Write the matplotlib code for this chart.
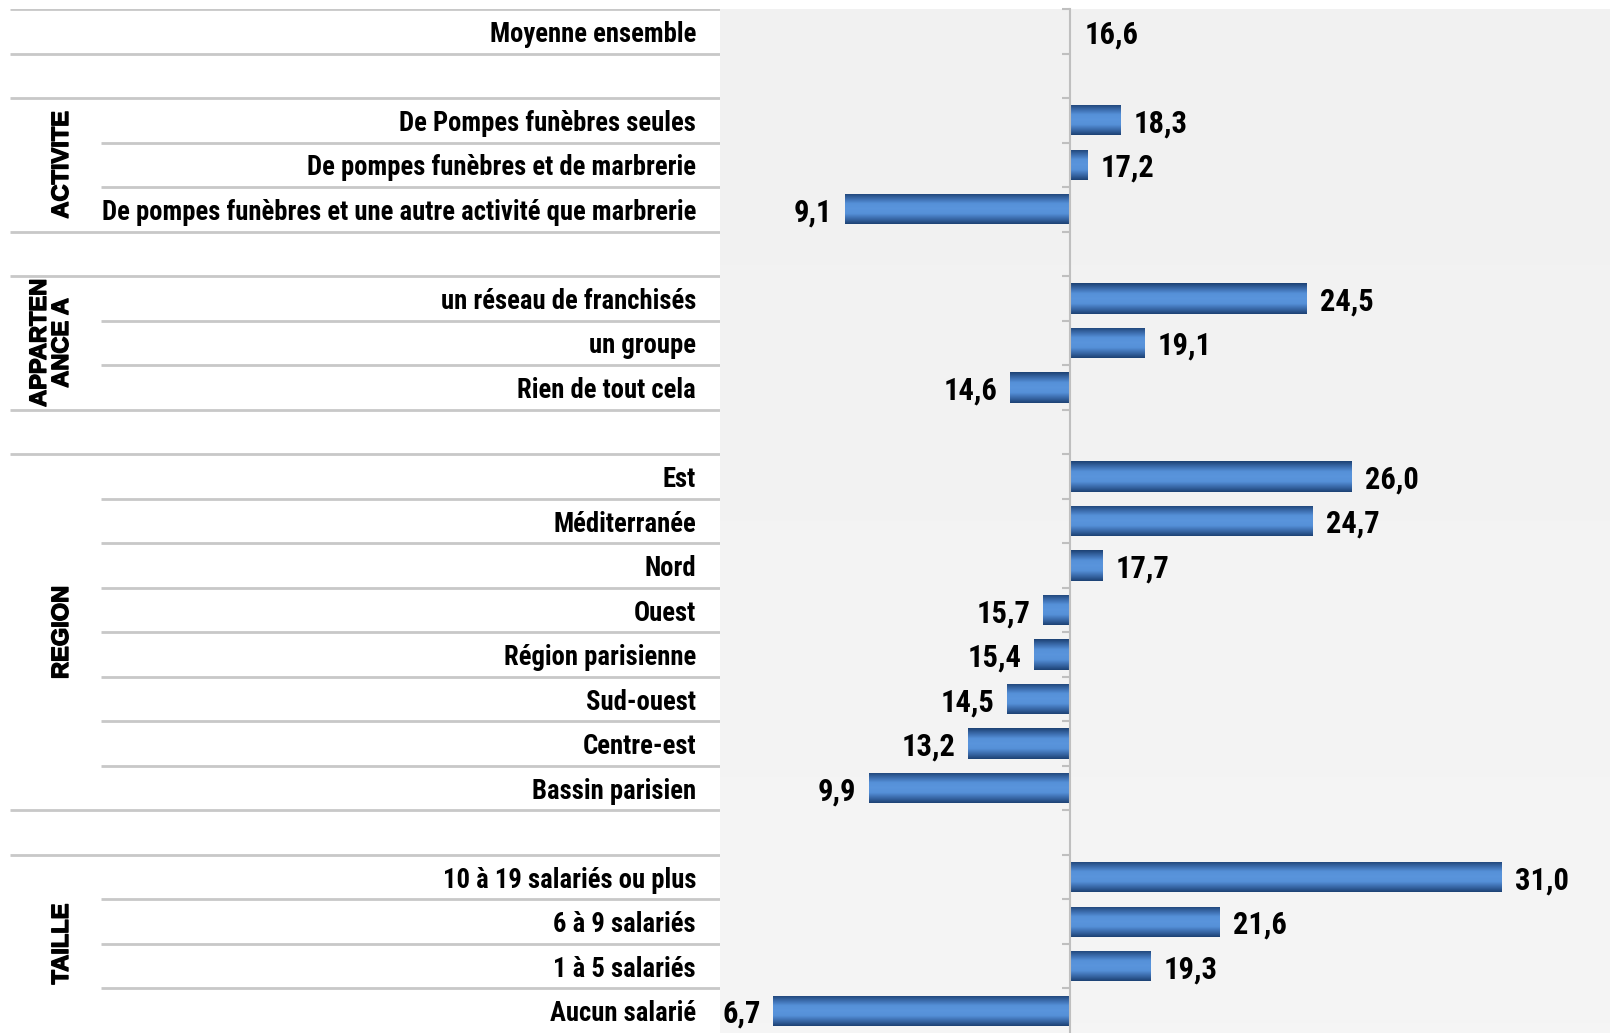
import matplotlib
matplotlib.use("Agg")
import matplotlib.pyplot as plt
import matplotlib.patheffects as pe
import numpy as np
from matplotlib import font_manager
from matplotlib.colors import LinearSegmentedColormap

# --- data -------------------------------------------------------------
mean_value = 16.6
groups = ["ACTIVITE", "APPARTEN\nANCE A", "REGION", "TAILLE"]
group_labels = [
    ["De Pompes funèbres seules",
     "De pompes funèbres et de marbrerie",
     "De pompes funèbres et une autre activité que marbrerie"],
    ["un réseau de franchisés", "un groupe", "Rien de tout cela"],
    ["Est", "Méditerranée", "Nord", "Ouest", "Région parisienne",
     "Sud-ouest", "Centre-est", "Bassin parisien"],
    ["10 à 19 salariés ou plus", "6 à 9 salariés", "1 à 5 salariés",
     "Aucun salarié"],
]
group_values = [
    [18.3, 17.2, 9.1],
    [24.5, 19.1, 14.6],
    [26.0, 24.7, 17.7, 15.7, 15.4, 14.5, 13.2, 9.9],
    [31.0, 21.6, 19.3, 6.7],
]

# --- fonts ------------------------------------------------------------
fonts = font_manager.fontManager.ttflist
names = {f.name for f in fonts}
bold_names = {f.name for f in fonts if f.weight in (700, 'bold') and f.style == 'normal'}

# narrow bold face, like Arial Narrow
narrow_font = {'family': ['DejaVu Sans'], 'stretch': 'condensed'}
for cand in ['Liberation Sans Narrow', 'Roboto Condensed', 'Archivo Narrow']:
    if cand in names:
        narrow_font = {'family': [cand, 'DejaVu Sans']}
        break

# regular-width bold face, like Arial Bold (group titles)
wide_family = ['DejaVu Sans']
for cand in ['Liberation Sans', 'Arimo', 'Roboto']:
    if cand in bold_names:
        wide_family = [cand, 'DejaVu Sans']
        break

W, H = 1610, 1033
fig = plt.figure(figsize=(W / 100, H / 100), dpi=100)

# build row layout: mean row, then blank + group rows
rows = [("Moyenne ensemble", mean_value, None)]
group_spans = []
for g, labs, vals in zip(groups, group_labels, group_values):
    rows.append(("", None, None))
    start = len(rows)
    for lab, v in zip(labs, vals):
        rows.append((lab, v, g))
    group_spans.append((g, start, len(rows) - 1))
n = len(rows)

top_px = 9
ax_h = (H - top_px) / H
left_px = 720

# --- left table -------------------------------------------------------
tab = fig.add_axes([0, 0, left_px / W, ax_h])
tab.set_xlim(0, left_px)
tab.set_ylim(n - 0.5, -0.5)
tab.axis('off')

line_col = '#c8c8c8'
for k in range(n):
    b = k - 0.5
    inner = any(s < k <= e for _, s, e in group_spans)
    x0 = 101 if inner else 10
    tab.plot([x0, left_px], [b, b], color=line_col, lw=2, solid_capstyle='butt')

for i, (lab, v, g) in enumerate(rows):
    if lab:
        tab.text(696, i, lab, ha='right', va='center_baseline', fontsize=19.2,
                 fontweight='bold', **narrow_font)

# group titles, thickened a little to look like Arial Bold
for g, s, e in group_spans:
    tab.text(73, (s + e) / 2, g, rotation=90, ha='right', va='center',
             multialignment='center', fontsize=17, fontweight='bold',
             family=wide_family, linespacing=0.95,
             path_effects=[pe.withStroke(linewidth=1.0, foreground='black')])

# --- bar area ---------------------------------------------------------
ax = fig.add_axes([left_px / W, 0, (W - left_px) / W, ax_h])
xmin, xmax = 4.93, 34.6
ax.set_xlim(xmin, xmax)
ax.set_ylim(n - 0.5, -0.5)

bg = np.linspace(0, 1, 100).reshape(-1, 1)
bg_cmap = LinearSegmentedColormap.from_list('bg', ['#f1f1f1', '#f5f5f5'])
ax.imshow(bg, extent=[xmin, xmax, n - 0.5, -0.5], aspect='auto',
          cmap=bg_cmap, zorder=0)

for sp in ['top', 'right', 'bottom']:
    ax.spines[sp].set_visible(False)
ax.spines['left'].set_position(('data', mean_value))
ax.spines['left'].set_color('#bfbfbf')
ax.spines['left'].set_linewidth(1.5)
ax.set_yticks(np.arange(n) - 0.5)
ax.set_yticklabels([])
ax.tick_params(axis='y', direction='out', length=6, width=1.5, color='#bfbfbf')
ax.set_xticks([])

bar_cmap = LinearSegmentedColormap.from_list(
    'bar', ['#1d4274', '#3a6aaa', '#5590d8', '#5a95dc', '#5590d8', '#3a6aaa', '#1d4274'])
grad = np.linspace(0, 1, 64).reshape(-1, 1)

ys = [i for i, r in enumerate(rows) if r[1] is not None and r[2] is not None]
vals = [rows[i][1] for i in ys]
bars = ax.barh(ys, [v - mean_value for v in vals], left=mean_value,
               height=0.68, color='none', edgecolor='none', zorder=2)
for bar in bars:
    x0, y0 = bar.get_x(), bar.get_y()
    x1, y1 = x0 + bar.get_width(), y0 + bar.get_height()
    im = ax.imshow(grad, extent=[min(x0, x1), max(x0, x1), y1, y0],
                   aspect='auto', cmap=bar_cmap, zorder=2)
    im.set_clip_path(bar)

def fmt(v):
    return f"{v:.1f}".replace('.', ',')

off = 0.42
for y, v in zip(ys, vals):
    if v >= mean_value:
        ax.text(v + off, y, fmt(v), ha='left', va='center_baseline', fontsize=22,
                fontweight='bold', zorder=3, **narrow_font)
    else:
        ax.text(v - off, y, fmt(v), ha='right', va='center_baseline', fontsize=22,
                fontweight='bold', zorder=3, **narrow_font)
ax.text(mean_value + 0.5, 0, fmt(mean_value), ha='left', va='center_baseline',
        fontsize=22, fontweight='bold', zorder=3, **narrow_font)

fig.savefig('out.png', dpi=100, facecolor='white')
